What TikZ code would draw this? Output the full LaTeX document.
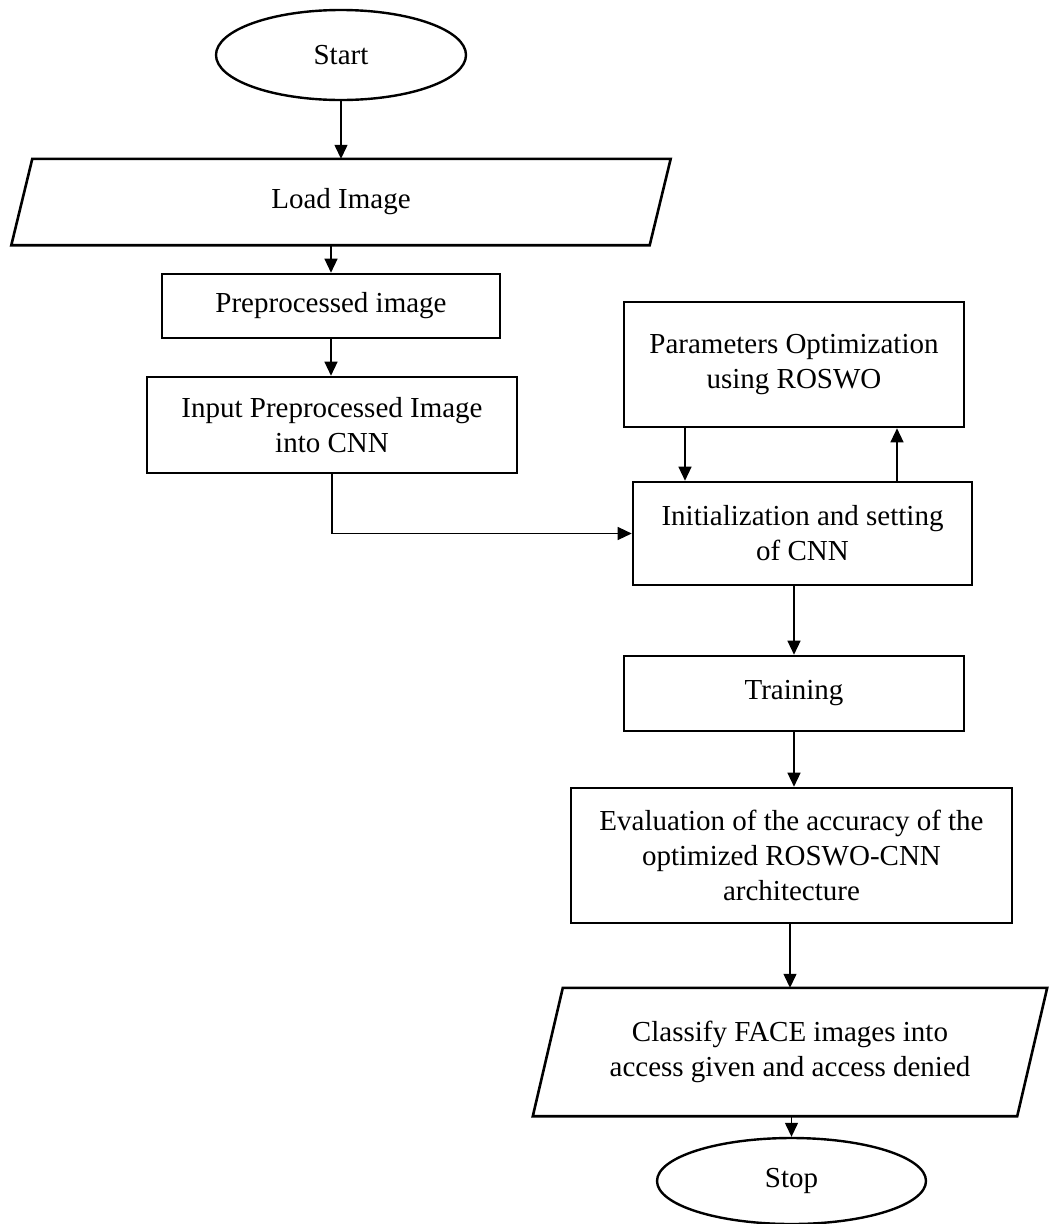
\documentclass[tikz,border=0pt]{standalone}
\usepackage{fontspec}
\setmainfont{Liberation Serif}
\usetikzlibrary{arrows.meta,shapes.geometric}
\begin{document}
\begin{tikzpicture}[x=1pt,y=1pt,
  every node/.style={font=\fontsize{29}{35}\selectfont, align=center, inner sep=0pt},
  procbox/.style={draw, line width=2.6pt, rectangle},
  termbox/.style={draw, line width=2.4pt, ellipse},
  iobox/.style={rectangle},
  iodraw/.style={line width=2.6pt, line join=miter},
  arr/.style={line width=1.3pt, -{Triangle[length=14pt,width=13pt]}},
  conn/.style={line width=1.3pt}
]
\useasboundingbox (0,0) rectangle (1054,-1224);

\node[termbox, minimum width=250pt, minimum height=90pt] (start) at (341,-55) {Start};
\node[iobox, minimum width=638pt, minimum height=86pt] (load) at (341,-202) {Load Image};
\draw[iodraw] ([xshift=10.5pt]load.north west) -- ([xshift=10.5pt]load.north east)
  -- ([xshift=-10.5pt]load.south east) -- ([xshift=-10.5pt]load.south west) -- cycle;
\node[procbox, minimum width=338pt, minimum height=64pt] (pre) at (331,-306) {Preprocessed image};
\node[procbox, minimum width=370pt, minimum height=96pt] (inp) at (332,-425) {Input Preprocessed Image\\into CNN};
\node[procbox, minimum width=340pt, minimum height=125pt] (param) at (794,-364.5) {Parameters Optimization\\using ROSWO};
\node[procbox, minimum width=339pt, minimum height=103pt] (init) at (802.5,-533.5) {Initialization and setting\\of CNN};
\node[procbox, minimum width=340pt, minimum height=75pt] (train) at (794,-693.5) {Training};
\node[procbox, minimum width=441pt, minimum height=135pt] (eval) at (791.5,-855.5) {Evaluation of the accuracy of the\\optimized ROSWO-CNN\\architecture};
\node[iobox, minimum width=484pt, minimum height=128pt] (cls) at (790,-1052) {Classify FACE images into\\access given and access denied};
\draw[iodraw] ([xshift=15pt]cls.north west) -- ([xshift=15pt]cls.north east)
  -- ([xshift=-15pt]cls.south east) -- ([xshift=-15pt]cls.south west) -- cycle;
\node[termbox, minimum width=269pt, minimum height=86pt] (stop) at (791.5,-1181) {Stop};

\draw[arr] (start.south) -- (load.north);
\draw[arr] (pre.north |- load.south) -- (pre.north);
\draw[arr] (pre.south) -- (pre.south |- inp.north);
\draw[arr] (inp.south) |- (init.west);
\draw[arr] ([xshift=-109pt]param.south) -- ([xshift=-109pt]param.south |- init.north);
\draw[arr] ([xshift=103pt]param.south |- init.north) -- ([xshift=103pt]param.south);
\draw[arr] (train.north |- init.south) -- (train.north);
\draw[arr] (train.south) -- (train.south |- eval.north);
\draw[arr] (eval.south -| cls.north) -- (cls.north);
\draw[arr] (cls.south) -- (cls.south -| stop.north) -- (stop.north);
\end{tikzpicture}
\end{document}
